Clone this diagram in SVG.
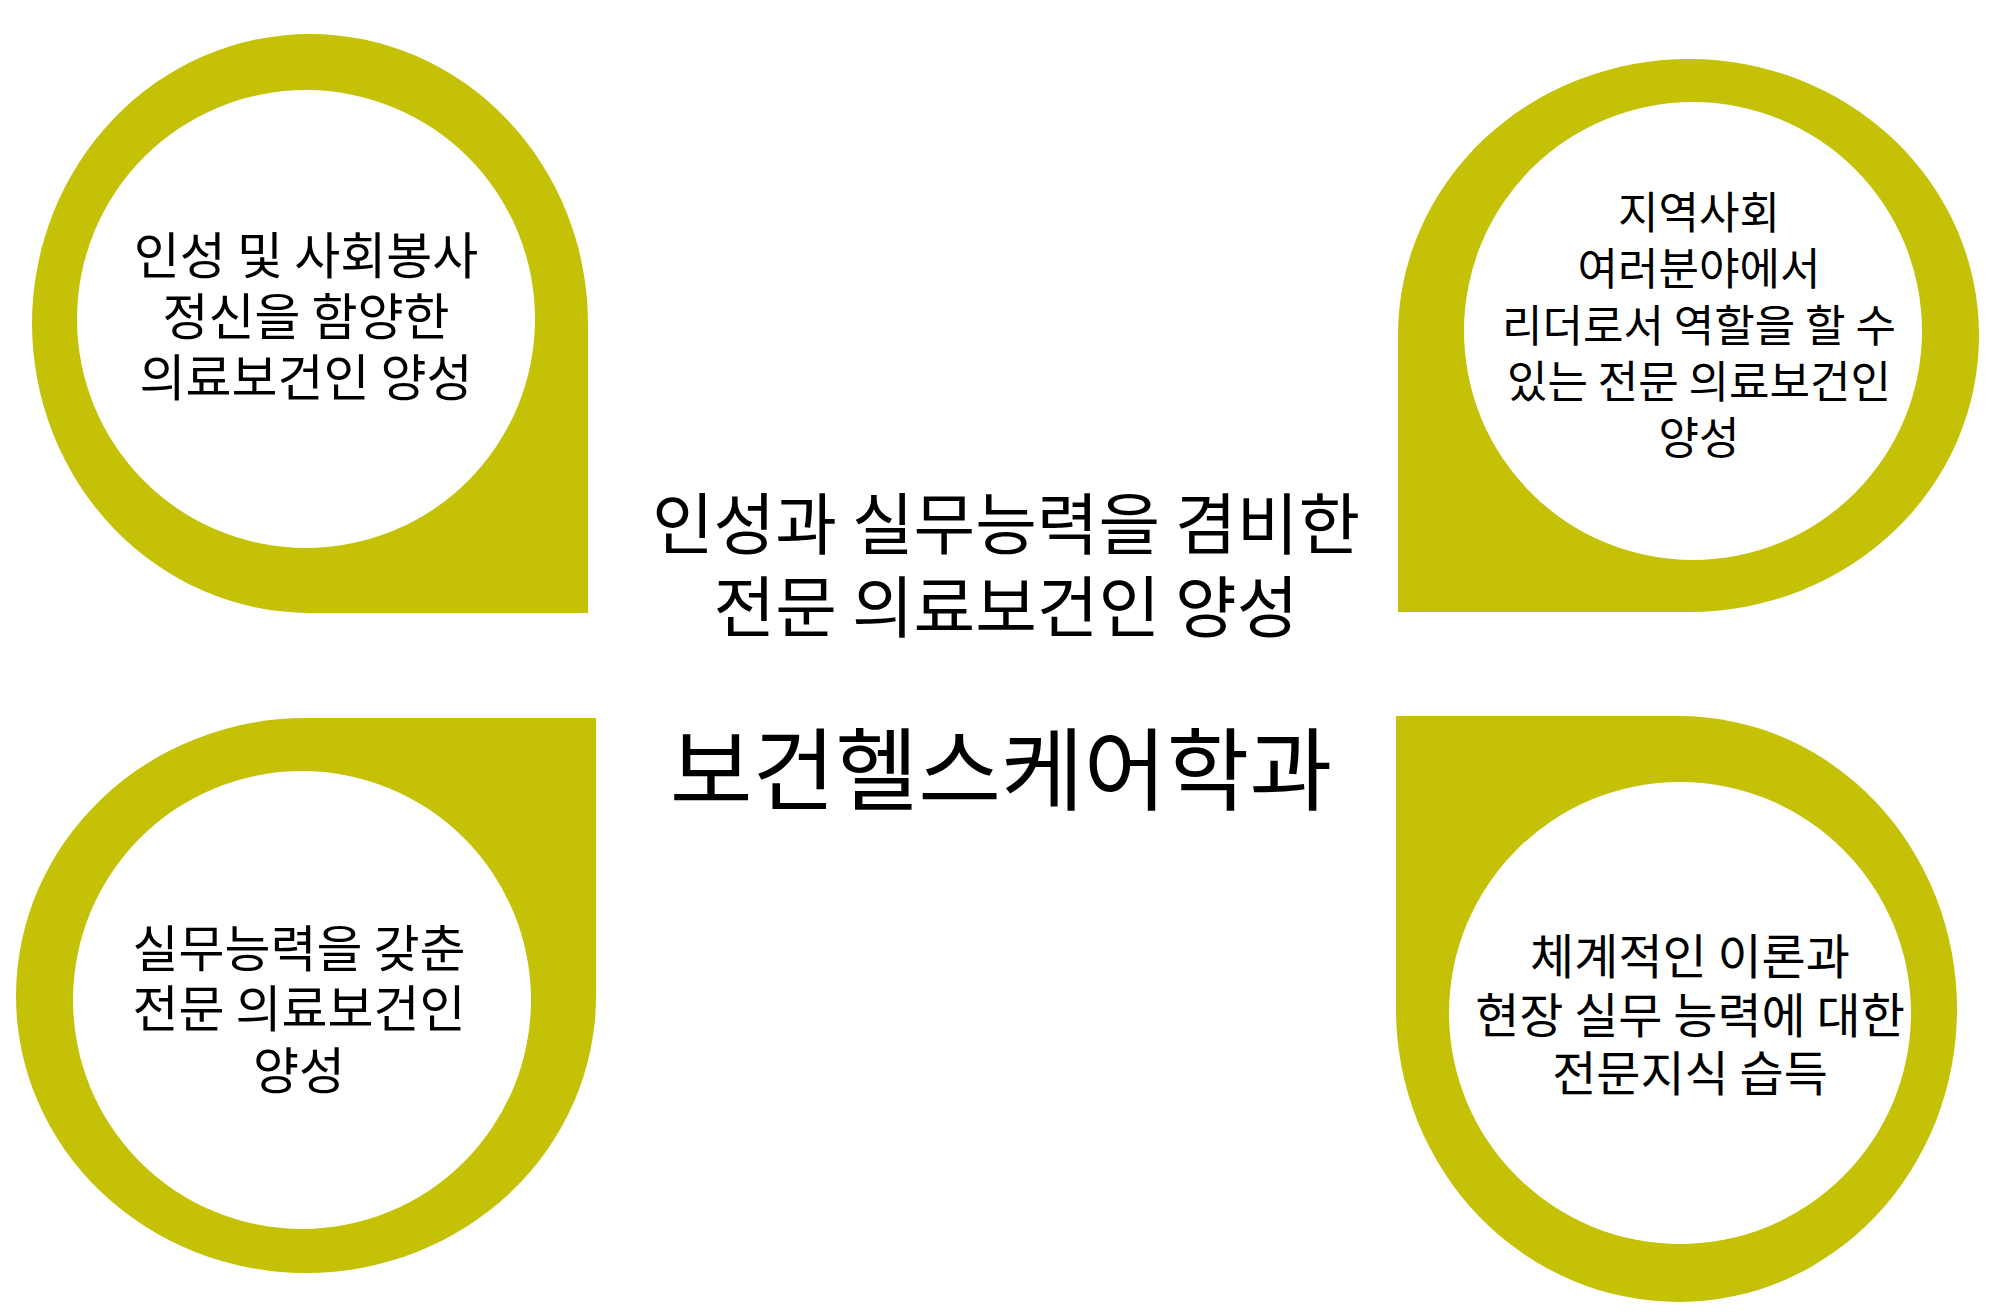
<svg xmlns="http://www.w3.org/2000/svg" width="2000" height="1312" viewBox="0 0 2000 1312">
<style>
.blob{fill:#C4C106}
.in{fill:#fff}
text{font-family:"Noto Sans CJK KR","Noto Sans",sans-serif;fill:#000;text-anchor:middle}
.s{font-size:50px}
.t{font-size:44px}
.b{font-size:48px}
.m{font-size:67px}
.l{font-size:90px}
</style>
<rect width="2000" height="1312" fill="#fff"/>
<g id="node-tl">
<path class="blob" d="M32,324 A278,290 0 0 1 310,34 A278,290 0 0 1 588,324 L588,613 L310,613 A278,290 0 0 1 32,324 Z"/>
<circle class="in" cx="306" cy="319" r="229"/>
<text class="s" x="306" y="274">인성 및 사회봉사</text>
<text class="s" x="306" y="335">정신을 함양한</text>
<text class="s" x="306" y="396">의료보건인 양성</text>
</g>
<g id="node-tr">
<path class="blob" d="M1398,612 L1398,335 A291,276 0 0 1 1689,59 A290,276 0 0 1 1979,335 A290,276 0 0 1 1689,612 Z"/>
<circle class="in" cx="1693" cy="331" r="229"/>
<text class="t" x="1699" y="229">지역사회</text>
<text class="t" x="1699" y="285">여러분야에서</text>
<text class="t" x="1699" y="342">리더로서 역할을 할 수</text>
<text class="t" x="1699" y="398">있는 전문 의료보건인</text>
<text class="t" x="1699" y="454">양성</text>
</g>
<g id="node-bl">
<path class="blob" d="M16,996 A290,278 0 0 1 306,718 L596,718 L596,996 A290,277 0 0 1 306,1273 A290,277 0 0 1 16,996 Z"/>
<circle class="in" cx="302" cy="1000" r="229"/>
<text class="s" x="299" y="967">실무능력을 갖춘</text>
<text class="s" x="299" y="1027">전문 의료보건인</text>
<text class="s" x="299" y="1089">양성</text>
</g>
<g id="node-br">
<path class="blob" d="M1396,1009 L1396,716 L1679,716 A278,293 0 0 1 1957,1009 A278,293 0 0 1 1679,1302 A283,293 0 0 1 1396,1009 Z"/>
<circle class="in" cx="1680" cy="1013" r="231"/>
<text class="b" x="1690" y="974">체계적인 이론과</text>
<text class="b" x="1690" y="1033">현장 실무 능력에 대한</text>
<text class="b" x="1690" y="1091">전문지식 습득</text>
</g>
<g id="center">
<text class="m" x="1006" y="549">인성과 실무능력을 겸비한</text>
<text class="m" x="1006" y="632">전문 의료보건인 양성</text>
<text class="l" x="1001" y="803">보건헬스케어학과</text>
</g>
<g id="connectors"></g>
</svg>
